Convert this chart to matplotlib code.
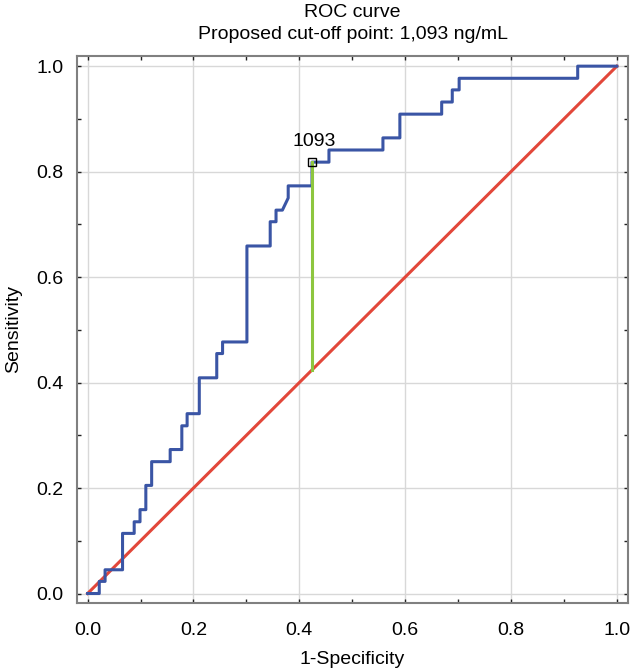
import matplotlib
matplotlib.use('Agg')
import matplotlib.pyplot as plt

plt.rcParams['font.family'] = ['Liberation Sans', 'DejaVu Sans']

# ROC curve vertices (1-specificity, sensitivity)
fpr = [0.0, 0.022, 0.022, 0.033, 0.033, 0.066, 0.066, 0.088, 0.088, 0.099, 0.099,
       0.110, 0.110, 0.121, 0.121, 0.156, 0.156, 0.178, 0.178, 0.188, 0.188,
       0.211, 0.211, 0.244, 0.244, 0.255, 0.255, 0.301, 0.301, 0.345, 0.345,
       0.356, 0.356, 0.368, 0.379, 0.379, 0.424, 0.424, 0.456, 0.456, 0.558,
       0.558, 0.590, 0.590, 0.669, 0.669, 0.689, 0.689, 0.702, 0.702, 0.926,
       0.926, 1.0]
tpr = [0.0, 0.0, 0.023, 0.023, 0.045, 0.045, 0.114, 0.114, 0.136, 0.136, 0.159,
       0.159, 0.205, 0.205, 0.250, 0.250, 0.273, 0.273, 0.318, 0.318, 0.341,
       0.341, 0.409, 0.409, 0.455, 0.455, 0.477, 0.477, 0.659, 0.659, 0.705,
       0.705, 0.727, 0.727, 0.750, 0.773, 0.773, 0.818, 0.818, 0.841, 0.841,
       0.864, 0.864, 0.909, 0.909, 0.932, 0.932, 0.955, 0.955, 0.977, 0.977,
       1.0, 1.0]

ref_line = [0.0, 1.0]
cut_x = 0.424
cut_y = 0.818
cut_label = '1093'

fs = 14

fig = plt.figure(figsize=(6.34, 6.70), dpi=100)
ax = fig.add_axes([0.1215, 0.1, 0.869, 0.817])

ax.plot(ref_line, ref_line, color='#e2473a', lw=2.2, zorder=3)
ax.plot(fpr, tpr, color='#3a55a5', lw=2.2, zorder=4)
ax.plot([cut_x, cut_x], [cut_x, cut_y], color='#8dc63f', lw=2.2, zorder=5)
ax.plot([cut_x], [cut_y], marker='s', ms=5.5, mfc='none', mec='black', mew=1.0, zorder=6)
ax.text(cut_x + 0.005, cut_y + 0.04, cut_label, ha='center', va='center', fontsize=fs, zorder=7)

ax.set_xlim(-0.02, 1.021)
ax.set_ylim(-0.018, 1.02)
ticks = [0.0, 0.2, 0.4, 0.6, 0.8, 1.0]
ax.set_xticks(ticks)
ax.set_yticks(ticks)
ax.set_xticklabels(['%.1f' % t for t in ticks])
ax.set_yticklabels(['%.1f' % t for t in ticks])
ax.set_xticks([0.1, 0.3, 0.5, 0.7, 0.9], minor=True)
ax.set_yticks([0.1, 0.3, 0.5, 0.7, 0.9], minor=True)
ax.tick_params(which='both', direction='in', top=True, right=True, length=3,
               width=1, color='#222222', labelsize=fs)
ax.tick_params(axis='x', which='both', pad=14)
ax.tick_params(axis='y', which='both', pad=10)
ax.grid(True, which='major', color='#d8d8d8', lw=1)
ax.set_axisbelow(True)
for s in ax.spines.values():
    s.set_color('#808080')
    s.set_linewidth(1.5)

ax.set_xlabel('1-Specificity', fontsize=fs, labelpad=8)
ax.set_ylabel('Sensitivity', fontsize=fs, labelpad=10)
ax.set_title('ROC curve\nProposed cut-off point: 1,093 ng/mL', fontsize=fs, pad=12, linespacing=1.4)

fig.savefig('out.png', dpi=100)
